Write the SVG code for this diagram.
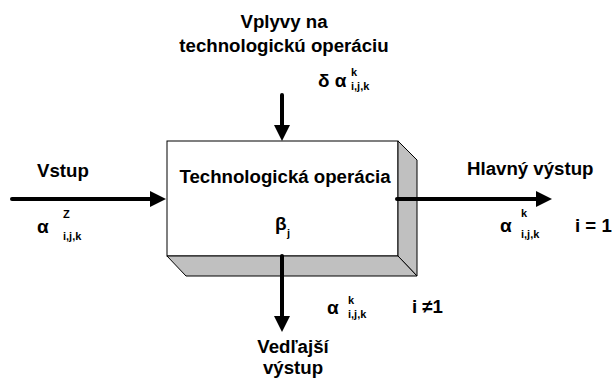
<svg xmlns="http://www.w3.org/2000/svg" width="614" height="378" viewBox="0 0 614 378">
<style>
text{font-family:"Liberation Sans",Arial,sans-serif;font-weight:bold;fill:#000}
.l{font-size:18.67px}
.g{font-size:19px}
.s{font-size:11px}
.face{stroke:#000;stroke-width:1}
.c{stroke:#000;stroke-width:4;stroke-linecap:round;fill:none;marker-end:url(#ah)}
</style>
<defs>
<marker id="ah" markerUnits="userSpaceOnUse" viewBox="0 0 16 16" markerWidth="16" markerHeight="16" refX="8" refY="8" orient="auto">
<path d="M0,0 L16,8 L0,16 z" fill="#000"/>
</marker>
</defs>
<g id="box">
<rect class="face" x="167" y="141" width="231" height="115" fill="#fff"/>
<polygon class="face" points="398,141 417,160 417,276 398,256" fill="#c0c0c0"/>
<polygon class="face" points="167,256 398,256 417,276 186,276" fill="#c0c0c0"/>
<text class="l" x="285" y="183" text-anchor="middle">Technologická operácia</text>
<text class="g" x="275" y="230">β</text>
<text class="s" x="287" y="237">j</text>
</g>
<g id="connectors">
<line class="c" x1="12" y1="199" x2="158" y2="199"/>
<line class="c" x1="397" y1="199" x2="544" y2="199"/>
<line class="c" x1="282" y1="95" x2="282" y2="133"/>
<line class="c" x1="282" y1="256" x2="282" y2="324"/>
</g>
<g id="vplyvy">
<text class="l" x="284" y="28" text-anchor="middle">Vplyvy na</text>
<text class="l" x="284" y="52" text-anchor="middle">technologickú operáciu</text>
<text class="g" x="318" y="87">δ α</text>
<text class="s" x="351" y="76">k</text>
<text class="s" x="351" y="90">i,j,k</text>
</g>
<g id="vstup">
<text class="l" x="37" y="177">Vstup</text>
<text class="g" x="37" y="233">α</text>
<text class="s" x="63" y="218">Z</text>
<text class="s" x="63" y="240">i,j,k</text>
</g>
<g id="hlavny">
<text class="l" x="467" y="175">Hlavný výstup</text>
<text class="g" x="500" y="232">α</text>
<text class="s" x="521" y="217">k</text>
<text class="s" x="521" y="238">i,j,k</text>
<text class="l" x="575" y="232">i = 1</text>
</g>
<g id="vedlajsi">
<text class="l" x="293" y="353" text-anchor="middle">Vedľajší</text>
<text class="l" x="293" y="374" text-anchor="middle">výstup</text>
<text class="g" x="327" y="314">α</text>
<text class="s" x="348" y="304">k</text>
<text class="s" x="348" y="318">i,j,k</text>
<text class="l" x="412" y="313">i ≠1</text>
</g>
</svg>
